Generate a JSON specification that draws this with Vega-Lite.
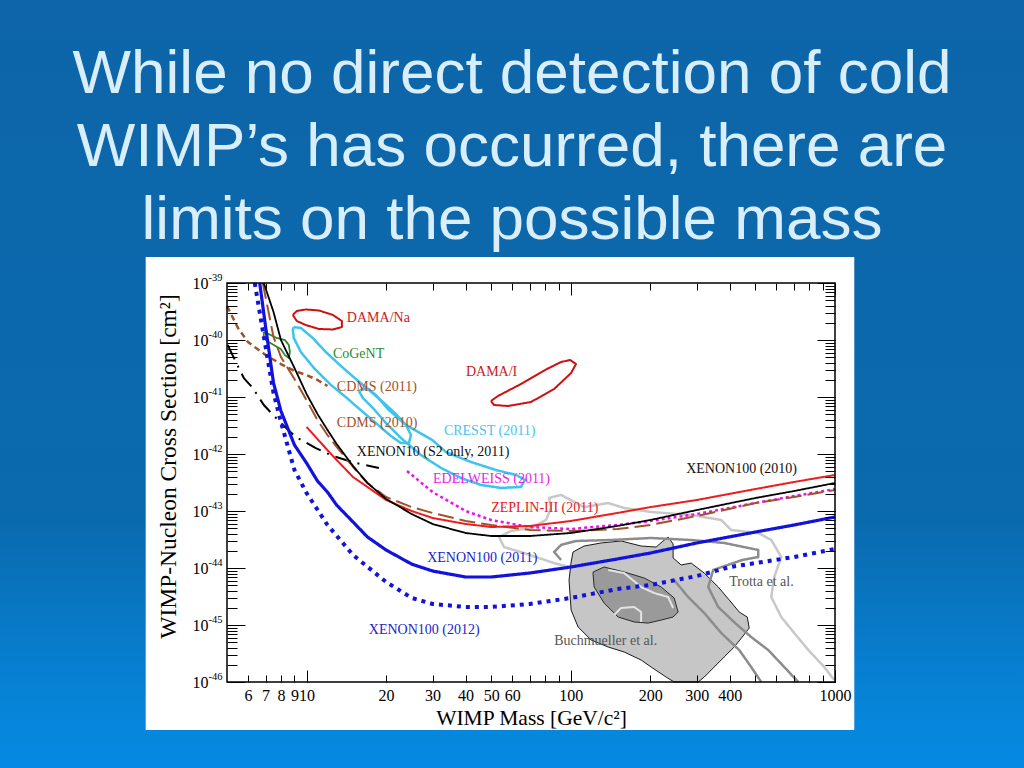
{
  "$schema": "https://vega.github.io/schema/vega-lite/v6.json",
  "width": 608,
  "height": 399,
  "autosize": {"type": "none"},
  "padding": {"left": 227, "top": 283, "right": 189, "bottom": 86},
  "background": "#0a6aae",
  "title": {
    "text": ["While no direct detection of cold", "WIMP’s has occurred, there are", "limits on the possible mass"],
    "font": "Liberation Sans", "fontSize": 62, "fontWeight": "normal", "color": "#d9eefb",
    "lineHeight": 73, "anchor": "middle", "frame": "group", "dx": -19, "offset": -311
  },
  "datasets": {
    "buch_outer": [
      {"mass": 102.0, "sigma": 1.91e-44}, {"mass": 112.3, "sigma": 2.43e-44}, {"mass": 130.3, "sigma": 2.75e-44},
      {"mass": 155.1, "sigma": 2.98e-44}, {"mass": 184.6, "sigma": 2.43e-44}, {"mass": 210.4, "sigma": 2.33e-44},
      {"mass": 223.7, "sigma": 2.98e-44}, {"mass": 233.6, "sigma": 3.50e-44}, {"mass": 244.0, "sigma": 2.64e-44},
      {"mass": 244.0, "sigma": 1.50e-44}, {"mass": 261.7, "sigma": 1.13e-44}, {"mass": 285.6, "sigma": 1.22e-44},
      {"mass": 319.8, "sigma": 8.17e-45}, {"mass": 361.4, "sigma": 4.64e-45}, {"mass": 397.8, "sigma": 2.75e-45},
      {"mass": 434.0, "sigma": 1.69e-45}, {"mass": 465.4, "sigma": 1.38e-45}, {"mass": 473.6, "sigma": 8.85e-46},
      {"mass": 445.6, "sigma": 6.15e-46}, {"mass": 415.5, "sigma": 4.11e-46}, {"mass": 380.7, "sigma": 2.75e-46},
      {"mass": 349.0, "sigma": 1.83e-46}, {"mass": 319.8, "sigma": 1.22e-46}, {"mass": 303.5, "sigma": 1e-46},
      {"mass": 246.2, "sigma": 1e-46}, {"mass": 229.6, "sigma": 1.22e-46}, {"mass": 201.5, "sigma": 1.83e-46},
      {"mass": 184.6, "sigma": 2.43e-46}, {"mass": 159.2, "sigma": 3.36e-46}, {"mass": 138.5, "sigma": 4.11e-46},
      {"mass": 119.4, "sigma": 5.46e-46}, {"mass": 106.6, "sigma": 9.23e-46}, {"mass": 100.3, "sigma": 1.83e-45},
      {"mass": 98.5, "sigma": 6.15e-45}, {"mass": 100.3, "sigma": 1.27e-44}, {"mass": 102.0, "sigma": 1.91e-44}
    ],
    "buch_inner": [
      {"mass": 121.5, "sigma": 8.51e-45}, {"mass": 133.7, "sigma": 1.04e-44}, {"mass": 159.2, "sigma": 8.51e-45},
      {"mass": 189.6, "sigma": 6.68e-45}, {"mass": 219.8, "sigma": 4.64e-45}, {"mass": 246.2, "sigma": 2.98e-45},
      {"mass": 254.9, "sigma": 1.69e-45}, {"mass": 244.0, "sigma": 1.38e-45}, {"mass": 219.8, "sigma": 1.22e-45},
      {"mass": 196.3, "sigma": 1.08e-45}, {"mass": 173.7, "sigma": 1.13e-45}, {"mass": 151.1, "sigma": 1.38e-45},
      {"mass": 133.7, "sigma": 2.43e-45}, {"mass": 122.6, "sigma": 4.64e-45}, {"mass": 121.5, "sigma": 7.54e-45},
      {"mass": 121.5, "sigma": 8.51e-45}
    ],
    "curves": [
      {"series": "Trotta outer", "mass": 98.5, "sigma": 1.04e-44}, {"series": "Trotta outer", "mass": 86.5, "sigma": 1.22e-44},
      {"series": "Trotta outer", "mass": 66.5, "sigma": 1.83e-44}, {"series": "Trotta outer", "mass": 55.9, "sigma": 2.33e-44},
      {"series": "Trotta outer", "mass": 53.5, "sigma": 3.50e-44}, {"series": "Trotta outer", "mass": 59.4, "sigma": 4.46e-44},
      {"series": "Trotta outer", "mass": 70.7, "sigma": 5.03e-44}, {"series": "Trotta outer", "mass": 80.6, "sigma": 6.95e-44},
      {"series": "Trotta outer", "mass": 84.2, "sigma": 1.13e-43}, {"series": "Trotta outer", "mass": 82.8, "sigma": 1.69e-43},
      {"series": "Trotta outer", "mass": 91.9, "sigma": 1.91e-43}, {"series": "Trotta outer", "mass": 112.3, "sigma": 1.17e-43},
      {"series": "Trotta outer", "mass": 138.5, "sigma": 1.38e-43}, {"series": "Trotta outer", "mass": 159.2, "sigma": 1.13e-43},
      {"series": "Trotta outer", "mass": 201.5, "sigma": 9.6e-44}, {"series": "Trotta outer", "mass": 285.6, "sigma": 8.51e-44},
      {"series": "Trotta outer", "mass": 371.0, "sigma": 6.95e-44}, {"series": "Trotta outer", "mass": 404.8, "sigma": 4.64e-44},
      {"series": "Trotta outer", "mass": 512.2, "sigma": 4.11e-44}, {"series": "Trotta outer", "mass": 573.8, "sigma": 3.10e-44},
      {"series": "Trotta outer", "mass": 626.1, "sigma": 1.56e-44}, {"series": "Trotta outer", "mass": 589.0, "sigma": 6.95e-45},
      {"series": "Trotta outer", "mass": 573.8, "sigma": 3.10e-45}, {"series": "Trotta outer", "mass": 626.1, "sigma": 1.38e-45},
      {"series": "Trotta outer", "mass": 701.1, "sigma": 7.24e-46}, {"series": "Trotta outer", "mass": 792.4, "sigma": 3.64e-46},
      {"series": "Trotta outer", "mass": 911.1, "sigma": 1.83e-46}, {"series": "Trotta outer", "mass": 993.8, "sigma": 1.08e-46},

      {"series": "Trotta inner", "mass": 91.9, "sigma": 1.38e-44}, {"series": "Trotta inner", "mass": 86.5, "sigma": 1.91e-44},
      {"series": "Trotta inner", "mass": 91.9, "sigma": 2.54e-44}, {"series": "Trotta inner", "mass": 104.7, "sigma": 2.98e-44},
      {"series": "Trotta inner", "mass": 142.1, "sigma": 3.10e-44}, {"series": "Trotta inner", "mass": 201.5, "sigma": 3.36e-44},
      {"series": "Trotta inner", "mass": 285.6, "sigma": 3.10e-44}, {"series": "Trotta inner", "mass": 380.7, "sigma": 2.75e-44},
      {"series": "Trotta inner", "mass": 512.2, "sigma": 2.07e-44}, {"series": "Trotta inner", "mass": 512.2, "sigma": 1.56e-44},
      {"series": "Trotta inner", "mass": 445.6, "sigma": 1.38e-44}, {"series": "Trotta inner", "mass": 345.9, "sigma": 9.23e-45},
      {"series": "Trotta inner", "mass": 331.2, "sigma": 4.64e-45}, {"series": "Trotta inner", "mass": 361.4, "sigma": 2.07e-45},
      {"series": "Trotta inner", "mass": 419.1, "sigma": 1.08e-45}, {"series": "Trotta inner", "mass": 481.8, "sigma": 6.15e-46},
      {"series": "Trotta inner", "mass": 558.9, "sigma": 3.64e-46}, {"series": "Trotta inner", "mass": 642.7, "sigma": 1.83e-46},
      {"series": "Trotta inner", "mass": 726.1, "sigma": 1e-46},

      {"series": "Trotta core", "mass": 246.2, "sigma": 6.15e-45}, {"series": "Trotta core", "mass": 278.1, "sigma": 3.10e-45},
      {"series": "Trotta core", "mass": 319.8, "sigma": 1.63e-45}, {"series": "Trotta core", "mass": 371.0, "sigma": 7.24e-46},
      {"series": "Trotta core", "mass": 434.0, "sigma": 3.64e-46}, {"series": "Trotta core", "mass": 481.8, "sigma": 1.83e-46},
      {"series": "Trotta core", "mass": 525.8, "sigma": 1e-46},

      {"series": "Buchmueller 1", "mass": 138.5, "sigma": 9.23e-45}, {"series": "Buchmueller 1", "mass": 159.2, "sigma": 8.17e-45},
      {"series": "Buchmueller 1", "mass": 184.6, "sigma": 4.64e-45}, {"series": "Buchmueller 1", "mass": 206.8, "sigma": 3.64e-45},
      {"series": "Buchmueller 1", "mass": 233.6, "sigma": 3.10e-45}, {"series": "Buchmueller 1", "mass": 244.0, "sigma": 1.99e-45},
      {"series": "Buchmueller 2", "mass": 145.9, "sigma": 1.50e-45}, {"series": "Buchmueller 2", "mass": 155.1, "sigma": 1.99e-45},
      {"series": "Buchmueller 2", "mass": 173.7, "sigma": 2.07e-45}, {"series": "Buchmueller 2", "mass": 184.6, "sigma": 1.69e-45},
      {"series": "Buchmueller 2", "mass": 184.6, "sigma": 1.13e-45},

      {"series": "CRESST M2", "mass": 8.95, "sigma": 1.69e-40}, {"series": "CRESST M2", "mass": 9.52, "sigma": 1.63e-40},
      {"series": "CRESST M2", "mass": 10.56, "sigma": 1.08e-40}, {"series": "CRESST M2", "mass": 11.83, "sigma": 6.15e-41},
      {"series": "CRESST M2", "mass": 13.49, "sigma": 3.50e-41}, {"series": "CRESST M2", "mass": 15.37, "sigma": 2.07e-41},
      {"series": "CRESST M2", "mass": 17.22, "sigma": 1.33e-41}, {"series": "CRESST M2", "mass": 19.46, "sigma": 8.17e-42},
      {"series": "CRESST M2", "mass": 21.79, "sigma": 5.03e-42}, {"series": "CRESST M2", "mass": 23.78, "sigma": 3.23e-42},
      {"series": "CRESST M2", "mass": 24.84, "sigma": 2.15e-42}, {"series": "CRESST M2", "mass": 24.41, "sigma": 1.56e-42},
      {"series": "CRESST M2", "mass": 22.76, "sigma": 1.56e-42}, {"series": "CRESST M2", "mass": 20.86, "sigma": 2.07e-42},
      {"series": "CRESST M2", "mass": 18.47, "sigma": 3.36e-42}, {"series": "CRESST M2", "mass": 16.34, "sigma": 5.46e-42},
      {"series": "CRESST M2", "mass": 14.21, "sigma": 9.6e-42}, {"series": "CRESST M2", "mass": 12.36, "sigma": 1.63e-41},
      {"series": "CRESST M2", "mass": 10.66, "sigma": 3.23e-41}, {"series": "CRESST M2", "mass": 9.52, "sigma": 6.15e-41},
      {"series": "CRESST M2", "mass": 8.95, "sigma": 1.08e-40}, {"series": "CRESST M2", "mass": 8.87, "sigma": 1.50e-40},
      {"series": "CRESST M2", "mass": 8.95, "sigma": 1.69e-40},

      {"series": "CRESST M1", "mass": 15.78, "sigma": 1.27e-41}, {"series": "CRESST M1", "mass": 16.92, "sigma": 1.44e-41},
      {"series": "CRESST M1", "mass": 18.30, "sigma": 1.08e-41}, {"series": "CRESST M1", "mass": 20.50, "sigma": 5.92e-42},
      {"series": "CRESST M1", "mass": 23.78, "sigma": 3.23e-42}, {"series": "CRESST M1", "mass": 29.93, "sigma": 1.76e-42},
      {"series": "CRESST M1", "mass": 33.71, "sigma": 1.08e-42}, {"series": "CRESST M1", "mass": 41.9, "sigma": 7.24e-43},
      {"series": "CRESST M1", "mass": 52.12, "sigma": 5.24e-43}, {"series": "CRESST M1", "mass": 62.06, "sigma": 4.28e-43},
      {"series": "CRESST M1", "mass": 67.13, "sigma": 3.50e-43}, {"series": "CRESST M1", "mass": 64.8, "sigma": 2.64e-43},
      {"series": "CRESST M1", "mass": 54.4, "sigma": 2.54e-43}, {"series": "CRESST M1", "mass": 45.74, "sigma": 2.86e-43},
      {"series": "CRESST M1", "mass": 38.41, "sigma": 3.79e-43}, {"series": "CRESST M1", "mass": 32.3, "sigma": 5.68e-43},
      {"series": "CRESST M1", "mass": 27.1, "sigma": 9.6e-43}, {"series": "CRESST M1", "mass": 22.76, "sigma": 1.91e-42},
      {"series": "CRESST M1", "mass": 19.97, "sigma": 3.50e-42}, {"series": "CRESST M1", "mass": 17.83, "sigma": 6.41e-42},
      {"series": "CRESST M1", "mass": 16.34, "sigma": 9.6e-42}, {"series": "CRESST M1", "mass": 15.78, "sigma": 1.27e-41},

      {"series": "DAMA/Na", "mass": 8.87, "sigma": 2.75e-40}, {"series": "DAMA/Na", "mass": 9.19, "sigma": 3.23e-40},
      {"series": "DAMA/Na", "mass": 9.94, "sigma": 3.43e-40}, {"series": "DAMA/Na", "mass": 11.13, "sigma": 3.30e-40},
      {"series": "DAMA/Na", "mass": 12.58, "sigma": 2.75e-40}, {"series": "DAMA/Na", "mass": 13.61, "sigma": 2.15e-40},
      {"series": "DAMA/Na", "mass": 13.61, "sigma": 1.69e-40}, {"series": "DAMA/Na", "mass": 12.58, "sigma": 1.53e-40},
      {"series": "DAMA/Na", "mass": 11.13, "sigma": 1.56e-40}, {"series": "DAMA/Na", "mass": 9.94, "sigma": 1.83e-40},
      {"series": "DAMA/Na", "mass": 9.19, "sigma": 2.15e-40}, {"series": "DAMA/Na", "mass": 8.87, "sigma": 2.75e-40},

      {"series": "DAMA/I", "mass": 49.9, "sigma": 8.51e-42}, {"series": "DAMA/I", "mass": 51.2, "sigma": 7.24e-42},
      {"series": "DAMA/I", "mass": 57.9, "sigma": 6.95e-42}, {"series": "DAMA/I", "mass": 70.7, "sigma": 8.17e-42},
      {"series": "DAMA/I", "mass": 86.5, "sigma": 1.38e-41}, {"series": "DAMA/I", "mass": 100.3, "sigma": 2.64e-41},
      {"series": "DAMA/I", "mass": 104.7, "sigma": 3.79e-41}, {"series": "DAMA/I", "mass": 99.4, "sigma": 4.46e-41},
      {"series": "DAMA/I", "mass": 91.9, "sigma": 4.11e-41}, {"series": "DAMA/I", "mass": 81.3, "sigma": 3.10e-41},
      {"series": "DAMA/I", "mass": 64.8, "sigma": 1.69e-41}, {"series": "DAMA/I", "mass": 53.0, "sigma": 1.04e-41},
      {"series": "DAMA/I", "mass": 49.9, "sigma": 8.51e-42},

      {"series": "CoGeNT", "mass": 6.89, "sigma": 1.38e-40}, {"series": "CoGeNT", "mass": 7.20, "sigma": 1.27e-40},
      {"series": "CoGeNT", "mass": 7.72, "sigma": 1.08e-40}, {"series": "CoGeNT", "mass": 8.28, "sigma": 1.0e-40},
      {"series": "CoGeNT", "mass": 8.57, "sigma": 8.17e-41}, {"series": "CoGeNT", "mass": 8.65, "sigma": 6.15e-41},
      {"series": "CoGeNT", "mass": 8.57, "sigma": 4.83e-41}, {"series": "CoGeNT", "mass": 8.28, "sigma": 5.46e-41},
      {"series": "CoGeNT", "mass": 7.99, "sigma": 6.95e-41}, {"series": "CoGeNT", "mass": 7.52, "sigma": 8.17e-41},
      {"series": "CoGeNT", "mass": 7.07, "sigma": 9.6e-41}, {"series": "CoGeNT", "mass": 6.89, "sigma": 1.13e-40},
      {"series": "CoGeNT", "mass": 6.89, "sigma": 1.38e-40},

      {"series": "CDMS (2011)", "mass": 5.0, "sigma": 3.94e-40}, {"series": "CDMS (2011)", "mass": 5.5, "sigma": 1.63e-40},
      {"series": "CDMS (2011)", "mass": 6, "sigma": 9.23e-41}, {"series": "CDMS (2011)", "mass": 7, "sigma": 5.46e-41},
      {"series": "CDMS (2011)", "mass": 8, "sigma": 3.79e-41}, {"series": "CDMS (2011)", "mass": 9, "sigma": 2.86e-41},
      {"series": "CDMS (2011)", "mass": 10, "sigma": 2.43e-41}, {"series": "CDMS (2011)", "mass": 11, "sigma": 1.99e-41},
      {"series": "CDMS (2011)", "mass": 12, "sigma": 1.56e-41},

      {"series": "XENON10", "mass": 5.03, "sigma": 8.17e-41}, {"series": "XENON10", "mass": 5.40, "sigma": 4.11e-41},
      {"series": "XENON10", "mass": 5.79, "sigma": 2.15e-41}, {"series": "XENON10", "mass": 6.26, "sigma": 1.44e-41},
      {"series": "XENON10", "mass": 6.89, "sigma": 7.24e-42}, {"series": "XENON10", "mass": 7.99, "sigma": 3.50e-42},
      {"series": "XENON10", "mass": 9.11, "sigma": 1.99e-42}, {"series": "XENON10", "mass": 10.84, "sigma": 1.27e-42},
      {"series": "XENON10", "mass": 12.58, "sigma": 9.23e-43}, {"series": "XENON10", "mass": 15.37, "sigma": 6.95e-43},
      {"series": "XENON10", "mass": 18.79, "sigma": 5.68e-43},

      {"series": "EDELWEISS", "mass": 24, "sigma": 5.03e-43}, {"series": "EDELWEISS", "mass": 30, "sigma": 2.15e-43},
      {"series": "EDELWEISS", "mass": 40, "sigma": 1e-43}, {"series": "EDELWEISS", "mass": 50, "sigma": 6.95e-44},
      {"series": "EDELWEISS", "mass": 70, "sigma": 5.24e-44}, {"series": "EDELWEISS", "mass": 100, "sigma": 4.83e-44},
      {"series": "EDELWEISS", "mass": 150, "sigma": 5.68e-44}, {"series": "EDELWEISS", "mass": 200, "sigma": 6.68e-44},
      {"series": "EDELWEISS", "mass": 300, "sigma": 8.85e-44}, {"series": "EDELWEISS", "mass": 500, "sigma": 1.38e-43},
      {"series": "EDELWEISS", "mass": 700, "sigma": 1.83e-43}, {"series": "EDELWEISS", "mass": 1000, "sigma": 2.43e-43},

      {"series": "CDMS (2010)", "mass": 6.83, "sigma": 1e-39}, {"series": "CDMS (2010)", "mass": 7.5, "sigma": 1.13e-40},
      {"series": "CDMS (2010)", "mass": 8, "sigma": 5.03e-41}, {"series": "CDMS (2010)", "mass": 9, "sigma": 2.07e-41},
      {"series": "CDMS (2010)", "mass": 10, "sigma": 8.85e-42}, {"series": "CDMS (2010)", "mass": 11, "sigma": 3.94e-42},
      {"series": "CDMS (2010)", "mass": 12, "sigma": 2.15e-42}, {"series": "CDMS (2010)", "mass": 13, "sigma": 1.33e-42},
      {"series": "CDMS (2010)", "mass": 15, "sigma": 5.92e-43}, {"series": "CDMS (2010)", "mass": 17, "sigma": 3.10e-43},
      {"series": "CDMS (2010)", "mass": 20, "sigma": 1.76e-43}, {"series": "CDMS (2010)", "mass": 25, "sigma": 1.17e-43},
      {"series": "CDMS (2010)", "mass": 30, "sigma": 9.23e-44}, {"series": "CDMS (2010)", "mass": 40, "sigma": 6.68e-44},
      {"series": "CDMS (2010)", "mass": 50, "sigma": 5.68e-44}, {"series": "CDMS (2010)", "mass": 70, "sigma": 4.64e-44},
      {"series": "CDMS (2010)", "mass": 100, "sigma": 4.46e-44}, {"series": "CDMS (2010)", "mass": 150, "sigma": 4.83e-44},
      {"series": "CDMS (2010)", "mass": 200, "sigma": 5.68e-44}, {"series": "CDMS (2010)", "mass": 300, "sigma": 8.17e-44},
      {"series": "CDMS (2010)", "mass": 500, "sigma": 1.38e-43}, {"series": "CDMS (2010)", "mass": 700, "sigma": 1.76e-43},
      {"series": "CDMS (2010)", "mass": 1000, "sigma": 2.33e-43},

      {"series": "ZEPLIN-III", "mass": 10, "sigma": 2.98e-42}, {"series": "ZEPLIN-III", "mass": 11, "sigma": 1.83e-42},
      {"series": "ZEPLIN-III", "mass": 12, "sigma": 1.17e-42}, {"series": "ZEPLIN-III", "mass": 13, "sigma": 7.85e-43},
      {"series": "ZEPLIN-III", "mass": 15, "sigma": 3.94e-43}, {"series": "ZEPLIN-III", "mass": 17, "sigma": 2.64e-43},
      {"series": "ZEPLIN-III", "mass": 20, "sigma": 1.56e-43}, {"series": "ZEPLIN-III", "mass": 25, "sigma": 1e-43},
      {"series": "ZEPLIN-III", "mass": 30, "sigma": 7.54e-44}, {"series": "ZEPLIN-III", "mass": 40, "sigma": 5.92e-44},
      {"series": "ZEPLIN-III", "mass": 50, "sigma": 5.24e-44}, {"series": "ZEPLIN-III", "mass": 70, "sigma": 5.46e-44},
      {"series": "ZEPLIN-III", "mass": 100, "sigma": 6.68e-44}, {"series": "ZEPLIN-III", "mass": 150, "sigma": 9.23e-44},
      {"series": "ZEPLIN-III", "mass": 200, "sigma": 1.17e-43}, {"series": "ZEPLIN-III", "mass": 300, "sigma": 1.56e-43},
      {"series": "ZEPLIN-III", "mass": 500, "sigma": 2.43e-43}, {"series": "ZEPLIN-III", "mass": 700, "sigma": 3.23e-43},
      {"series": "ZEPLIN-III", "mass": 1000, "sigma": 4.28e-43},

      {"series": "XENON100 (2010)", "mass": 6.89, "sigma": 1e-39}, {"series": "XENON100 (2010)", "mass": 7.5, "sigma": 3.10e-40},
      {"series": "XENON100 (2010)", "mass": 8, "sigma": 1e-40}, {"series": "XENON100 (2010)", "mass": 9, "sigma": 3.23e-41},
      {"series": "XENON100 (2010)", "mass": 10, "sigma": 1.13e-41}, {"series": "XENON100 (2010)", "mass": 11, "sigma": 5.03e-42},
      {"series": "XENON100 (2010)", "mass": 12, "sigma": 2.64e-42}, {"series": "XENON100 (2010)", "mass": 13, "sigma": 1.50e-42},
      {"series": "XENON100 (2010)", "mass": 15, "sigma": 6.15e-43}, {"series": "XENON100 (2010)", "mass": 17, "sigma": 3.10e-43},
      {"series": "XENON100 (2010)", "mass": 20, "sigma": 1.63e-43}, {"series": "XENON100 (2010)", "mass": 25, "sigma": 8.85e-44},
      {"series": "XENON100 (2010)", "mass": 30, "sigma": 5.92e-44}, {"series": "XENON100 (2010)", "mass": 40, "sigma": 4.11e-44},
      {"series": "XENON100 (2010)", "mass": 50, "sigma": 3.64e-44}, {"series": "XENON100 (2010)", "mass": 70, "sigma": 3.64e-44},
      {"series": "XENON100 (2010)", "mass": 100, "sigma": 4.11e-44}, {"series": "XENON100 (2010)", "mass": 150, "sigma": 5.46e-44},
      {"series": "XENON100 (2010)", "mass": 200, "sigma": 6.95e-44}, {"series": "XENON100 (2010)", "mass": 300, "sigma": 1.04e-43},
      {"series": "XENON100 (2010)", "mass": 500, "sigma": 1.69e-43}, {"series": "XENON100 (2010)", "mass": 700, "sigma": 2.24e-43},
      {"series": "XENON100 (2010)", "mass": 1000, "sigma": 3.10e-43},

      {"series": "XENON100 (2011)", "mass": 6.65, "sigma": 1e-39}, {"series": "XENON100 (2011)", "mass": 7, "sigma": 1.69e-40},
      {"series": "XENON100 (2011)", "mass": 7.5, "sigma": 1.76e-41}, {"series": "XENON100 (2011)", "mass": 8, "sigma": 5.68e-42},
      {"series": "XENON100 (2011)", "mass": 9, "sigma": 1.44e-42}, {"series": "XENON100 (2011)", "mass": 10, "sigma": 6.95e-43},
      {"series": "XENON100 (2011)", "mass": 11, "sigma": 3.36e-43}, {"series": "XENON100 (2011)", "mass": 12, "sigma": 2.15e-43},
      {"series": "XENON100 (2011)", "mass": 13, "sigma": 1.27e-43}, {"series": "XENON100 (2011)", "mass": 15, "sigma": 6.41e-44},
      {"series": "XENON100 (2011)", "mass": 17, "sigma": 3.50e-44}, {"series": "XENON100 (2011)", "mass": 20, "sigma": 2.07e-44},
      {"series": "XENON100 (2011)", "mass": 25, "sigma": 1.17e-44}, {"series": "XENON100 (2011)", "mass": 30, "sigma": 8.85e-45},
      {"series": "XENON100 (2011)", "mass": 40, "sigma": 6.95e-45}, {"series": "XENON100 (2011)", "mass": 50, "sigma": 6.95e-45},
      {"series": "XENON100 (2011)", "mass": 70, "sigma": 8.17e-45}, {"series": "XENON100 (2011)", "mass": 100, "sigma": 1.04e-44},
      {"series": "XENON100 (2011)", "mass": 150, "sigma": 1.44e-44}, {"series": "XENON100 (2011)", "mass": 200, "sigma": 1.83e-44},
      {"series": "XENON100 (2011)", "mass": 300, "sigma": 2.75e-44}, {"series": "XENON100 (2011)", "mass": 500, "sigma": 4.28e-44},
      {"series": "XENON100 (2011)", "mass": 700, "sigma": 5.68e-44}, {"series": "XENON100 (2011)", "mass": 1000, "sigma": 7.85e-44},

      {"series": "XENON100 (2012)", "mass": 6.37, "sigma": 1e-39}, {"series": "XENON100 (2012)", "mass": 6.5, "sigma": 5.68e-40},
      {"series": "XENON100 (2012)", "mass": 7, "sigma": 7.54e-41}, {"series": "XENON100 (2012)", "mass": 7.5, "sigma": 1.18e-41},
      {"series": "XENON100 (2012)", "mass": 8, "sigma": 3.64e-42}, {"series": "XENON100 (2012)", "mass": 9, "sigma": 5.24e-43},
      {"series": "XENON100 (2012)", "mass": 10, "sigma": 2.07e-43}, {"series": "XENON100 (2012)", "mass": 12, "sigma": 5.68e-44},
      {"series": "XENON100 (2012)", "mass": 15, "sigma": 1.69e-44}, {"series": "XENON100 (2012)", "mass": 20, "sigma": 5.68e-45},
      {"series": "XENON100 (2012)", "mass": 25, "sigma": 2.98e-45}, {"series": "XENON100 (2012)", "mass": 30, "sigma": 2.34e-45},
      {"series": "XENON100 (2012)", "mass": 40, "sigma": 2.07e-45}, {"series": "XENON100 (2012)", "mass": 50, "sigma": 2.07e-45},
      {"series": "XENON100 (2012)", "mass": 70, "sigma": 2.34e-45}, {"series": "XENON100 (2012)", "mass": 100, "sigma": 2.98e-45},
      {"series": "XENON100 (2012)", "mass": 150, "sigma": 4.28e-45}, {"series": "XENON100 (2012)", "mass": 200, "sigma": 5.03e-45},
      {"series": "XENON100 (2012)", "mass": 300, "sigma": 7.24e-45}, {"series": "XENON100 (2012)", "mass": 400, "sigma": 1.04e-44},
      {"series": "XENON100 (2012)", "mass": 500, "sigma": 1.22e-44}, {"series": "XENON100 (2012)", "mass": 700, "sigma": 1.56e-44},
      {"series": "XENON100 (2012)", "mass": 1000, "sigma": 2.15e-44}
    ],
    "labels": [
      {"text": "DAMA/Na", "mass": 14.21, "sigma": 2.07e-40},
      {"text": "CoGeNT", "mass": 12.58, "sigma": 4.83e-41},
      {"text": "CDMS (2011)", "mass": 13.02, "sigma": 1.27e-41},
      {"text": "DAMA/I", "mass": 40.1, "sigma": 2.33e-41},
      {"text": "CDMS (2010)", "mass": 13.02, "sigma": 2.98e-42},
      {"text": "CRESST (2011)", "mass": 33.1, "sigma": 2.15e-42},
      {"text": "XENON10 (S2 only, 2011)", "mass": 15.5, "sigma": 9.23e-43},
      {"text": "EDELWEISS (2011)", "mass": 30.1, "sigma": 3.10e-43},
      {"text": "XENON100 (2010)", "mass": 273.3, "sigma": 4.64e-43},
      {"text": "ZEPLIN-III (2011)", "mass": 50, "sigma": 9.6e-44},
      {"text": "XENON100 (2011)", "mass": 28.6, "sigma": 1.27e-44},
      {"text": "Trotta et al.", "mass": 397.8, "sigma": 4.83e-45},
      {"text": "XENON100 (2012)", "mass": 17.2, "sigma": 6.95e-46},
      {"text": "Buchmueller et al.", "mass": 86.5, "sigma": 4.46e-46}
    ]
  },
  "layer": [
    {
      "data": {"values": [{}]},
      "mark": {"type": "rect", "fill": {"gradient": "linear", "x1": 0, "y1": 0, "x2": 0, "y2": 1,
        "stops": [
          {"offset": 0.069, "color": "#0e65a9"},
          {"offset": 0.677, "color": "#0a6aae"},
          {"offset": 0.829, "color": "#087ccc"},
          {"offset": 0.911, "color": "#0686da"},
          {"offset": 0.967, "color": "#0589e2"}
        ]}},
      "encoding": {
        "x": {"datum": 0.5, "type": "quantitative", "scale": {"type": "log", "domain": [5, 1000], "nice": false}, "axis": null},
        "x2": {"datum": 10000},
        "y": {"datum": 1e-48, "type": "quantitative", "scale": {"type": "log", "domain": [1e-46, 1e-39], "nice": false}, "axis": null},
        "y2": {"datum": 1e-33}
      }
    },
    {
      "data": {"values": [{}]},
      "mark": {"type": "rect", "fill": "#ffffff"},
      "encoding": {
        "x": {"datum": 2.462, "type": "quantitative", "axis": null},
        "x2": {"datum": 1183},
        "y": {"datum": 1.44e-47, "type": "quantitative", "axis": null},
        "y2": {"datum": 2.86e-39}
      }
    },
    {
      "data": {"name": "buch_outer"},
      "mark": {"type": "line", "fill": "#c6c6c6", "stroke": "#1a1a1a", "strokeWidth": 1},
      "encoding": {
        "x": {"field": "mass", "type": "quantitative",
          "axis": {"orient": "bottom", "zindex": 1, "values": [10, 100, 1000], "tickSize": -12, "labels": false, "domain": false, "grid": false, "title": null, "tickColor": "#000"}},
        "y": {"field": "sigma", "type": "quantitative",
          "axis": {"orient": "left", "zindex": 1, "values": [1e-46, 1e-45, 1e-44, 1e-43, 1e-42, 1e-41, 1e-40, 1e-39], "tickSize": -18,
            "labelExpr": "'10'", "labelFont": "Liberation Serif", "labelFontSize": 16, "labelColor": "#000", "labelPadding": 37,
            "labelOverlap": false, "labelFlush": false, "labelBound": false,
            "domain": false, "grid": false, "title": null, "tickColor": "#000"}},
        "order": {"value": null}
      }
    },
    {
      "data": {"name": "buch_inner"},
      "mark": {"type": "line", "fill": "#9a9a9a", "stroke": "#2a2a2a", "strokeWidth": 1},
      "encoding": {
        "x": {"field": "mass", "type": "quantitative",
          "axis": {"orient": "top", "zindex": 1, "values": [10, 100, 1000], "tickSize": -12, "labels": false, "domain": false, "grid": false, "title": null, "tickColor": "#000"}},
        "y": {"field": "sigma", "type": "quantitative",
          "axis": {"orient": "right", "zindex": 1, "values": [1e-46, 1e-45, 1e-44, 1e-43, 1e-42, 1e-41, 1e-40, 1e-39], "tickSize": -18, "labels": false, "domain": false, "grid": false, "title": null, "tickColor": "#000"}},
        "order": {"value": null}
      }
    },
    {
      "data": {"name": "curves"},
      "mark": {"type": "line", "strokeCap": "butt", "strokeJoin": "round"},
      "encoding": {
        "x": {"field": "mass", "type": "quantitative",
          "axis": {"orient": "bottom", "zindex": 1, "values": [6, 7, 8, 9, 10, 20, 30, 40, 50, 60, 70, 80, 90, 100, 200, 300, 400, 500, 600, 700, 800, 900, 1000],
            "tickSize": -7, "format": "d",
            "labelExpr": "datum.value < 70 || datum.value == 100 || (datum.value >= 200 && datum.value <= 400) || datum.value == 1000 ? datum.label : ''",
            "labelFont": "Liberation Serif", "labelFontSize": 16, "labelColor": "#000", "labelPadding": 12,
            "labelOverlap": false, "labelFlush": false, "labelBound": false, "domain": false, "grid": false, "tickColor": "#000",
            "title": "WIMP Mass [GeV/c²]", "titleFont": "Liberation Serif", "titleFontSize": 21.5, "titleFontWeight": "normal", "titleColor": "#000", "titlePadding": 4}},
        "y": {"field": "sigma", "type": "quantitative",
          "axis": {"orient": "left", "zindex": 1,
            "values": [1e-46, 2e-46, 3e-46, 4e-46, 5e-46, 6e-46, 7e-46, 8e-46, 9e-46,
                       1e-45, 2e-45, 3e-45, 4e-45, 5e-45, 6e-45, 7e-45, 8e-45, 9e-45,
                       1e-44, 2e-44, 3e-44, 4e-44, 5e-44, 6e-44, 7e-44, 8e-44, 9e-44,
                       1e-43, 2e-43, 3e-43, 4e-43, 5e-43, 6e-43, 7e-43, 8e-43, 9e-43,
                       1e-42, 2e-42, 3e-42, 4e-42, 5e-42, 6e-42, 7e-42, 8e-42, 9e-42,
                       1e-41, 2e-41, 3e-41, 4e-41, 5e-41, 6e-41, 7e-41, 8e-41, 9e-41,
                       1e-40, 2e-40, 3e-40, 4e-40, 5e-40, 6e-40, 7e-40, 8e-40, 9e-40, 1e-39],
            "tickSize": -10,
            "labelExpr": "abs(log(datum.value)/LN10 - round(log(datum.value)/LN10)) < 0.01 ? '-' + round(-log(datum.value)/LN10) : ''",
            "labelFont": "Liberation Serif", "labelFontSize": 10.5, "labelColor": "#000", "labelPadding": 15, "labelOffset": -6,
            "labelOverlap": false, "labelFlush": false, "labelBound": false, "domain": false, "grid": false, "tickColor": "#000",
            "title": "WIMP-Nucleon Cross Section [cm²]", "titleFont": "Liberation Serif", "titleFontSize": 23.5, "titleFontWeight": "normal", "titleColor": "#000", "titlePadding": 28, "titleY": 183}},
        "detail": {"field": "series", "type": "nominal"},
        "stroke": {"field": "series", "type": "nominal", "legend": null,
          "scale": {"type": "ordinal",
            "domain": ["Trotta outer", "Trotta inner", "Trotta core", "Buchmueller 1", "Buchmueller 2", "CRESST M2", "CRESST M1", "DAMA/Na", "DAMA/I", "CoGeNT", "CDMS (2011)", "XENON10", "EDELWEISS", "CDMS (2010)", "ZEPLIN-III", "XENON100 (2010)", "XENON100 (2011)", "XENON100 (2012)"],
            "range": ["#c8c8c8", "#8c8c8c", "#8c8c8c", "#e4e4e4", "#e4e4e4", "#3cc4ee", "#3cc4ee", "#cc1111", "#cc1111", "#2a8a2a", "#a0522d", "#000000", "#ee11ee", "#a0522d", "#ee1c1c", "#000000", "#1212dd", "#1212dd"]}},
        "strokeDash": {"field": "series", "type": "nominal", "legend": null,
          "scale": {"type": "ordinal",
            "domain": ["Trotta outer", "Trotta inner", "Trotta core", "Buchmueller 1", "Buchmueller 2", "CRESST M2", "CRESST M1", "DAMA/Na", "DAMA/I", "CoGeNT", "CDMS (2011)", "XENON10", "EDELWEISS", "CDMS (2010)", "ZEPLIN-III", "XENON100 (2010)", "XENON100 (2011)", "XENON100 (2012)"],
            "range": [[1, 0], [1, 0], [1, 0], [1, 0], [1, 0], [1, 0], [1, 0], [1, 0], [1, 0], [1, 0], [6, 4], [16, 7, 2, 7], [3, 3], [16, 6], [1, 0], [1, 0], [1, 0], [4, 5]]}},
        "strokeWidth": {"field": "series", "type": "nominal", "legend": null,
          "scale": {"type": "ordinal",
            "domain": ["Trotta outer", "Trotta inner", "Trotta core", "Buchmueller 1", "Buchmueller 2", "CRESST M2", "CRESST M1", "DAMA/Na", "DAMA/I", "CoGeNT", "CDMS (2011)", "XENON10", "EDELWEISS", "CDMS (2010)", "ZEPLIN-III", "XENON100 (2010)", "XENON100 (2011)", "XENON100 (2012)"],
            "range": [2.5, 2.5, 2.5, 2, 2, 2.5, 2.5, 2, 2, 1.8, 2.5, 2, 2.5, 2, 2, 1.8, 3.2, 4]}},
        "order": {"value": null}
      }
    },
    {
      "data": {"name": "labels"},
      "mark": {"type": "text", "align": "left", "baseline": "alphabetic", "font": "Liberation Serif", "fontSize": 14},
      "encoding": {
        "x": {"field": "mass", "type": "quantitative",
          "axis": {"orient": "top", "zindex": 1, "values": [6, 7, 8, 9, 10, 20, 30, 40, 50, 60, 70, 80, 90, 100, 200, 300, 400, 500, 600, 700, 800, 900, 1000], "tickSize": -7, "labels": false, "domain": false, "grid": false, "title": null, "tickColor": "#000"}},
        "y": {"field": "sigma", "type": "quantitative",
          "axis": {"orient": "right", "zindex": 1,
            "values": [1e-46, 2e-46, 3e-46, 4e-46, 5e-46, 6e-46, 7e-46, 8e-46, 9e-46,
                       1e-45, 2e-45, 3e-45, 4e-45, 5e-45, 6e-45, 7e-45, 8e-45, 9e-45,
                       1e-44, 2e-44, 3e-44, 4e-44, 5e-44, 6e-44, 7e-44, 8e-44, 9e-44,
                       1e-43, 2e-43, 3e-43, 4e-43, 5e-43, 6e-43, 7e-43, 8e-43, 9e-43,
                       1e-42, 2e-42, 3e-42, 4e-42, 5e-42, 6e-42, 7e-42, 8e-42, 9e-42,
                       1e-41, 2e-41, 3e-41, 4e-41, 5e-41, 6e-41, 7e-41, 8e-41, 9e-41,
                       1e-40, 2e-40, 3e-40, 4e-40, 5e-40, 6e-40, 7e-40, 8e-40, 9e-40, 1e-39],
            "tickSize": -10, "labels": false, "domain": false, "grid": false, "title": null, "tickColor": "#000"}},
        "text": {"field": "text", "type": "nominal"},
        "fill": {"field": "text", "type": "nominal", "legend": null,
          "scale": {"type": "ordinal",
            "domain": ["DAMA/Na", "CoGeNT", "CDMS (2011)", "DAMA/I", "CDMS (2010)", "CRESST (2011)", "XENON10 (S2 only, 2011)", "EDELWEISS (2011)", "XENON100 (2010)", "ZEPLIN-III (2011)", "XENON100 (2011)", "Trotta et al.", "XENON100 (2012)", "Buchmueller et al."],
            "range": ["#cc1a1a", "#2e8b2e", "#a0522d", "#cc1a1a", "#a0522d", "#4cc4ee", "#111111", "#e81ee8", "#111111", "#e82020", "#2222cc", "#555555", "#2222cc", "#555555"]}}
      }
    },
    {
      "data": {"values": [{}]},
      "mark": {"type": "rect", "filled": false, "stroke": "#000000", "strokeWidth": 1.5},
      "encoding": {
        "x": {"datum": 5, "type": "quantitative", "axis": null},
        "x2": {"datum": 1000},
        "y": {"datum": 1e-46, "type": "quantitative", "axis": null},
        "y2": {"datum": 1e-39}
      }
    }
  ],
  "config": {"view": {"stroke": null}}
}
